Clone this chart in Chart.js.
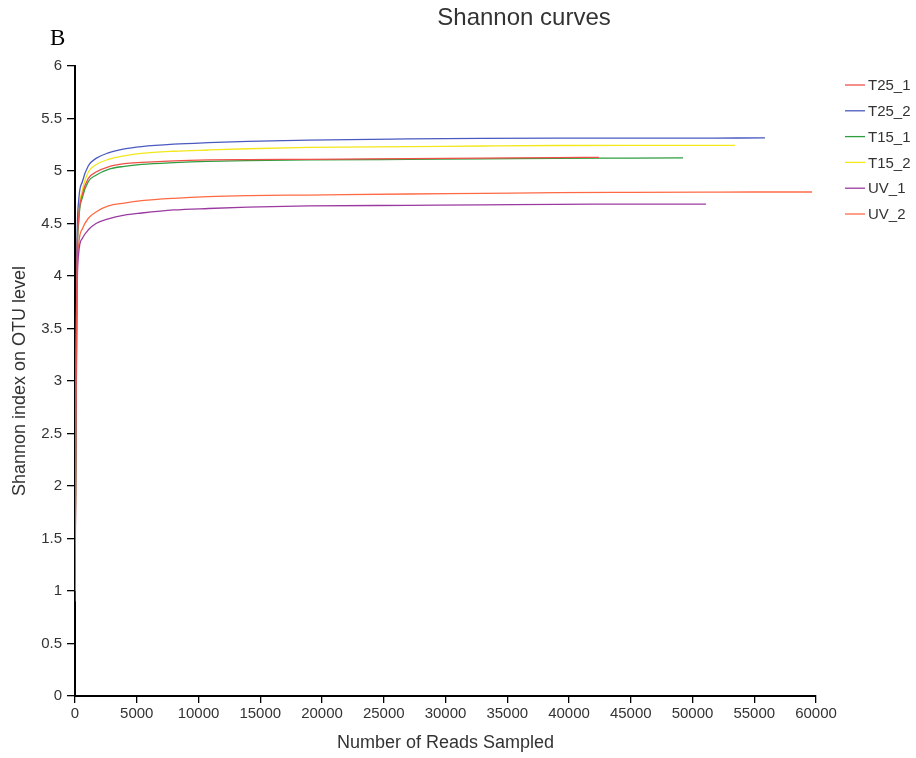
<!DOCTYPE html>
<html>
<head>
<meta charset="utf-8">
<script src="https://cdn.jsdelivr.net/npm/chart.js@4.4.0/dist/chart.umd.min.js"></script>
<style>
html,body{margin:0;padding:0;background:#fff;}
#wrap{width:916px;height:758px;position:relative;}
</style>
</head>
<body>
<div id="wrap"><canvas id="c" width="916" height="758"></canvas></div>
<script>
// ---- data ----
const seriesNames = ["T25_1", "T25_2", "T15_1", "T15_2", "UV_1", "UV_2"];
const seriesColors = ["#f0504a", "#4a5ac0", "#2e9e3e", "#f2e81a", "#9a3aa0", "#ff6a45"];

const readsT25_1   = [1, 150, 300, 600, 1080, 1700, 2700, 4000, 5400, 8000, 10800, 14000, 18900, 27000, 33000, 39000, 42430];
const shannonT25_1 = [1.0, 4.0, 4.55, 4.78, 4.93, 4.99, 5.04, 5.07, 5.082, 5.097, 5.105, 5.108, 5.111, 5.117, 5.122, 5.128, 5.13];

const readsT25_2   = [1, 150, 300, 600, 1080, 1700, 2700, 4000, 5400, 8000, 10800, 14000, 18900, 27000, 33000, 39000, 45000, 51000, 55870];
const shannonT25_2 = [1.1, 4.2, 4.72, 4.9, 5.05, 5.12, 5.172, 5.21, 5.232, 5.255, 5.27, 5.283, 5.295, 5.305, 5.31, 5.313, 5.314, 5.314, 5.315];

const readsT15_1   = [1, 150, 300, 600, 1080, 1700, 2700, 4000, 5400, 8000, 10800, 14000, 18900, 27000, 33000, 39000, 45000, 49230];
const shannonT15_1 = [1.0, 3.95, 4.52, 4.75, 4.9, 4.96, 5.016, 5.045, 5.063, 5.08, 5.092, 5.099, 5.105, 5.111, 5.115, 5.12, 5.123, 5.125];

const readsT15_2   = [1, 150, 300, 600, 1080, 1700, 2700, 4000, 5400, 8000, 10800, 14000, 18900, 27000, 33000, 39000, 45000, 51000, 53440];
const shannonT15_2 = [1.0, 4.1, 4.6, 4.82, 4.99, 5.06, 5.11, 5.145, 5.168, 5.188, 5.2, 5.212, 5.225, 5.232, 5.238, 5.243, 5.245, 5.245, 5.245];

const readsUV_1   = [1, 150, 300, 600, 1080, 1700, 2700, 4000, 5400, 8000, 10800, 14000, 18900, 27000, 33000, 39000, 45000, 51090];
const shannonUV_1 = [0.9, 3.7, 4.22, 4.36, 4.44, 4.5, 4.545, 4.58, 4.6, 4.629, 4.643, 4.655, 4.667, 4.673, 4.677, 4.683, 4.684, 4.685];

const readsUV_2   = [1, 150, 300, 600, 1080, 1700, 2700, 4000, 5400, 8000, 10800, 14000, 18900, 27000, 33000, 39000, 45000, 51000, 55000, 59680];
const shannonUV_2 = [1.0, 3.8, 4.3, 4.45, 4.55, 4.61, 4.667, 4.695, 4.717, 4.74, 4.756, 4.765, 4.771, 4.781, 4.787, 4.794, 4.797, 4.799, 4.8, 4.8];

const xTickMin = 0, xTickMax = 60000, xTickStep = 5000;
const yTickMin = 0, yTickMax = 6, yTickStep = 0.5;

const chartTitle = "Shannon curves";
const panelLabel = "B";
const xAxisTitle = "Number of Reads Sampled";
const yAxisTitle = "Shannon index on OTU level";

// ---- build ----
const readsAll = [readsT25_1, readsT25_2, readsT15_1, readsT15_2, readsUV_1, readsUV_2];
const valsAll = [shannonT25_1, shannonT25_2, shannonT15_1, shannonT15_2, shannonUV_1, shannonUV_2];

const datasets = seriesNames.map((name, i) => ({
  label: name,
  data: readsAll[i].map((r, j) => ({x: r, y: valsAll[i][j]})),
  borderColor: seriesColors[i],
  backgroundColor: seriesColors[i],
  borderWidth: 1.3,
  pointRadius: 0,
  cubicInterpolationMode: 'monotone',
  fill: false
}));

const FONT = '"Liberation Sans", Arial, sans-serif';

const textPlugin = {
  id: 'textPlugin',
  afterDraw(chart) {
    const ctx = chart.ctx;
    ctx.save();
    // title
    ctx.fillStyle = '#333';
    ctx.font = '24px ' + FONT;
    ctx.textAlign = 'center';
    ctx.textBaseline = 'middle';
    ctx.fillText(chartTitle, 524, 18);
    // panel label
    ctx.fillStyle = '#000';
    ctx.font = '23px "Liberation Serif", "Times New Roman", serif';
    ctx.textAlign = 'left';
    ctx.fillText(panelLabel, 50, 39);
    // legend
    ctx.font = '15px ' + FONT;
    chart.data.datasets.forEach((ds, i) => {
      const y = 85 + i * 25.8;
      ctx.strokeStyle = ds.borderColor;
      ctx.lineWidth = 1.3;
      ctx.beginPath();
      ctx.moveTo(845, y);
      ctx.lineTo(865, y);
      ctx.stroke();
      ctx.fillStyle = '#333';
      ctx.textAlign = 'left';
      ctx.textBaseline = 'middle';
      ctx.fillText(ds.label, 868, y + 1);
    });
    ctx.restore();
  }
};

const tickFont = {family: FONT, size: 15};
const titleFont = {family: FONT, size: 18};

new Chart(document.getElementById('c'), {
  type: 'line',
  data: {datasets},
  options: {
    responsive: false,
    animation: false,
    layout: {padding: {top: 66, left: 0, right: 100, bottom: 0}},
    plugins: {
      legend: {display: false},
      title: {display: false},
      tooltip: {enabled: false}
    },
    scales: {
      x: {
        type: 'linear',
        min: xTickMin,
        max: xTickMax,
        afterFit(scale) { scale.height = 62; },
        ticks: {stepSize: xTickStep, color: '#333', font: tickFont, maxRotation: 0, padding: 2,
                callback: v => String(v)},
        grid: {drawOnChartArea: false, drawTicks: true, tickLength: 7, color: '#000', lineWidth: 1.3},
        border: {color: '#000', width: 2},
        title: {display: true, text: xAxisTitle, color: '#333', font: titleFont, padding: {top: 0, bottom: 4}}
      },
      y: {
        min: yTickMin,
        max: yTickMax,
        afterFit(scale) { scale.width = 75; },
        ticks: {stepSize: yTickStep, color: '#333', font: tickFont, padding: 5,
                callback: v => String(v)},
        grid: {drawOnChartArea: false, drawTicks: true, tickLength: 8, color: '#000', lineWidth: 1.3},
        border: {color: '#000', width: 2},
        title: {display: true, text: yAxisTitle, color: '#333', font: titleFont, padding: {top: 9, bottom: 0}}
      }
    }
  },
  plugins: [textPlugin]
});
</script>
</body>
</html>
